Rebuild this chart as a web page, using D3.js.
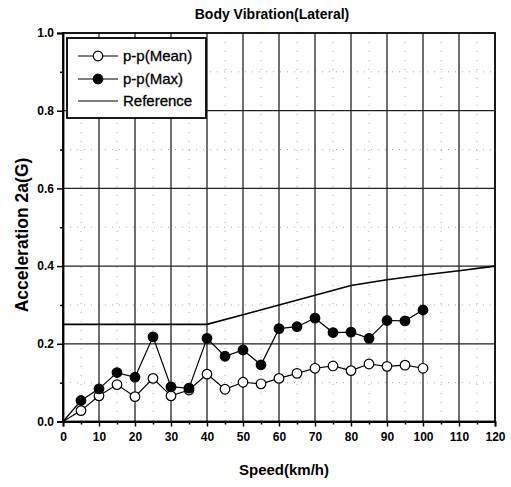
<!DOCTYPE html>
<html><head><meta charset="utf-8">
<script src="https://cdn.jsdelivr.net/npm/d3@7"></script>
<style>
body{margin:0;background:#fff;}
text{font-family:"Liberation Sans",Arial,sans-serif;fill:#000;}
</style></head>
<body>
<svg id="c" width="511" height="487"></svg>
<script>
const speeds = [0,5,10,15,20,25,30,35,40,45,50,55,60,65,70,75,80,85,90,95,100];
const meanVals = [0,0.028,0.066,0.095,0.064,0.111,0.066,0.081,0.122,0.083,0.101,0.097,0.111,0.124,0.137,0.143,0.131,0.148,0.142,0.145,0.137];
const maxVals = [0,0.054,0.084,0.126,0.114,0.218,0.089,0.086,0.214,0.168,0.184,0.146,0.239,0.244,0.266,0.229,0.230,0.214,0.260,0.259,0.287];
const refSpeeds = [0,10,20,30,40,50,60,70,80,90,100,110,120];
const refVals = [0.25,0.25,0.25,0.25,0.25,0.275,0.30,0.325,0.35,0.365,0.377,0.388,0.40];
const xTicks = [0,10,20,30,40,50,60,70,80,90,100,110,120];
const yTicks = [0.0,0.2,0.4,0.6,0.8,1.0];
const legendLabels = ["p-p(Mean)","p-p(Max)","Reference"];
const title = "Body Vibration(Lateral)";
const xTitle = "Speed(km/h)";
const yTitle = "Acceleration 2a(G)";

const svg = d3.select("#c");
const L=63, R=495, T=33, B=421.5;
const x = d3.scaleLinear().domain([0,120]).range([L,R]);
const y = d3.scaleLinear().domain([0,1]).range([B,T]);

// minor grid
const minorX = d3.range(5,120,10), minorY = d3.range(0.1,1,0.2);
svg.append("g").selectAll("line").data(minorY).join("line")
  .attr("x1",L).attr("x2",R).attr("y1",d=>y(d)).attr("y2",d=>y(d))
  .attr("stroke","#aaa").attr("stroke-width",1).attr("stroke-dasharray","1,6");
svg.append("g").selectAll("line").data(minorX).join("line")
  .attr("y1",T).attr("y2",B).attr("x1",d=>x(d)).attr("x2",d=>x(d))
  .attr("stroke","#aaa").attr("stroke-width",1).attr("stroke-dasharray","1,8");
// major grid
svg.append("g").selectAll("line").data(xTicks.slice(1,-1)).join("line")
  .attr("y1",T).attr("y2",B).attr("x1",d=>x(d)).attr("x2",d=>x(d))
  .attr("stroke","#222").attr("stroke-width",1.3);
svg.append("g").selectAll("line").data(yTicks.slice(1,-1)).join("line")
  .attr("x1",L).attr("x2",R).attr("y1",d=>y(d)).attr("y2",d=>y(d))
  .attr("stroke","#222").attr("stroke-width",1.3);

// axes
const xAxis = d3.axisBottom(x).tickValues(xTicks).tickFormat(d3.format("d")).tickSize(5).tickPadding(6);
const gx = svg.append("g").attr("transform",`translate(0,${B})`).call(xAxis);
const xMinor = d3.axisBottom(x).tickValues(minorX).tickFormat("").tickSize(3);
svg.append("g").attr("transform",`translate(0,${B})`).call(xMinor).select(".domain").remove();
const yAxis = d3.axisLeft(y).tickValues(yTicks).tickFormat(d3.format(".1f")).tickSize(6).tickPadding(3);
const gy = svg.append("g").attr("transform",`translate(${L},0)`).call(yAxis);
const yMinor = d3.axisLeft(y).tickValues(minorY).tickFormat("").tickSize(3);
svg.append("g").attr("transform",`translate(${L},0)`).call(yMinor).select(".domain").remove();
svg.selectAll(".tick line").attr("stroke","#000").attr("stroke-width",1.5);
svg.selectAll(".domain").attr("stroke","#000").attr("stroke-width",1.8);
[gx,gy].forEach(g=>g.selectAll("text").style("font-size","12px").style("font-weight","bold").attr("fill","#000"));
// frame
svg.append("rect").attr("x",L).attr("y",T).attr("width",R-L).attr("height",B-T)
  .attr("fill","none").attr("stroke","#000").attr("stroke-width",1.8);

// reference line
svg.append("path").datum(refSpeeds.map((s,i)=>[s,refVals[i]]))
  .attr("d",d3.line().x(d=>x(d[0])).y(d=>y(d[1])))
  .attr("fill","none").attr("stroke","#000").attr("stroke-width",1.6);

function series(vals, filled){
  const pts = speeds.map((s,i)=>[s,vals[i]]);
  svg.append("path").datum(pts).attr("d",d3.line().x(d=>x(d[0])).y(d=>y(d[1])))
    .attr("fill","none").attr("stroke","#000").attr("stroke-width",1.2);
  svg.append("g").selectAll("circle").data(pts.filter(d=>d[0]>0)).join("circle")
    .attr("cx",d=>x(d[0])).attr("cy",d=>y(d[1])).attr("r",4.8)
    .attr("fill",filled?"#000":"#fff").attr("stroke","#000").attr("stroke-width",1.2);
}
series(meanVals,false);
series(maxVals,true);

// legend
const lg = svg.append("g");
lg.append("rect").attr("x",67).attr("y",38).attr("width",139).attr("height",80)
  .attr("fill","#fff").attr("stroke","#000").attr("stroke-width",1.8);
const rows=[56,79,101];
legendLabels.forEach((t,i)=>{
  lg.append("line").attr("x1",78).attr("x2",118).attr("y1",rows[i]).attr("y2",rows[i])
    .attr("stroke","#000").attr("stroke-width",1.2);
  if(i<2) lg.append("circle").attr("cx",98).attr("cy",rows[i]).attr("r",4.8)
    .attr("fill",i==1?"#000":"#fff").attr("stroke","#000").attr("stroke-width",1.2);
  lg.append("text").attr("x",123).attr("y",rows[i]).attr("dy","0.35em")
    .style("font-size","15px").attr("stroke","#000").attr("stroke-width",0.3).text(t);
});

// titles
svg.append("text").attr("x",272).attr("y",19).attr("text-anchor","middle")
  .style("font-size","14px").style("font-weight","bold").text(title);
svg.append("text").attr("x",284).attr("y",475).attr("text-anchor","middle")
  .style("font-size","15px").style("font-weight","bold").text(xTitle);
svg.append("text").attr("transform","translate(28,235) rotate(-90)").attr("text-anchor","middle")
  .style("font-size","17.5px").style("font-weight","bold").text(yTitle);
</script>
</body></html>
